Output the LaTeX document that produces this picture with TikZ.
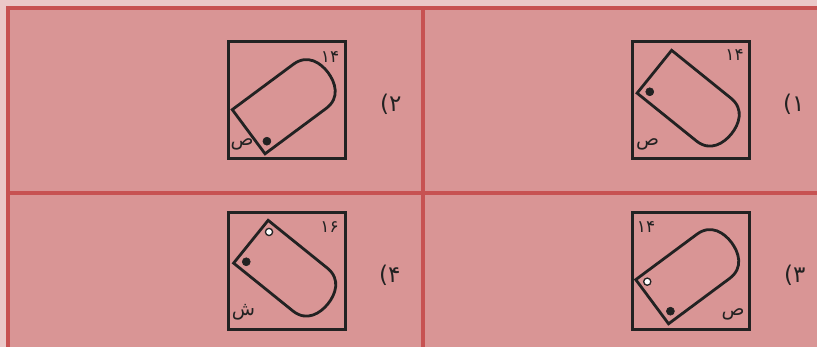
\documentclass[tikz,border=0pt]{standalone}
\usepackage{fontspec}
\newfontfamily\arabicfont[Script=Arabic]{DejaVu Sans}
\TeXXeTstate=1
\definecolor{bgout}{HTML}{EBC8C8}
\definecolor{cellbg}{HTML}{D99595}
\definecolor{gridc}{HTML}{C75252}
\definecolor{ink}{HTML}{222222}
\tikzset{
  gridline/.style={draw=gridc, line width=4pt},
  boxline/.style={draw=ink, line width=3pt},
  shapeline/.style={draw=ink, line width=2.8pt, line join=miter},
  blackdot/.style={fill=ink, draw=ink, line width=0.6pt},
  whitedot/.style={fill=white, draw=ink, line width=1.3pt},
  numtxt/.style={text=ink, font=\arabicfont\fontsize{17}{19}\selectfont, inner sep=0pt},
  lettxt/.style={text=ink, font=\arabicfont\fontsize{19}{21}\selectfont, inner sep=0pt},
  lbltxt/.style={text=ink, font=\arabicfont\fontsize{23}{26}\selectfont, inner sep=0pt, anchor=base west},
}
\newcommand\tagpath[4]{% name prefix, cx, cy, rotation
  \begin{scope}[shift={(#2,#3)}, rotate=#4]
    \draw[shapeline] (-49,27.5) -- (27,27.5) .. controls (45,27.5) and (50,12) .. (50,0)
      .. controls (50,-12) and (45,-27.5) .. (27,-27.5) -- (-49,-27.5) -- cycle;
    \coordinate (#1b) at (-40,-18.5);
    \coordinate (#1w) at (-41,19);
  \end{scope}
}
\begin{document}
\begin{tikzpicture}[x=1pt,y=1pt]
\useasboundingbox (0,0) rectangle (817,347);
\fill[bgout] (0,0) rectangle (817,347);
\fill[cellbg] (8,0) rectangle (817,339);
% grid
\coordinate (gl0) at (8,0);
\coordinate (gl1) at (8,341);
\coordinate (gt0) at (6,339);
\coordinate (gt1) at (817,339);
\coordinate (gv0) at (423,0);
\coordinate (gv1) at (423,339);
\coordinate (gh0) at (8,154);
\coordinate (gh1) at (817,154);
\draw[gridline] (gl0) -- (gl1);
\draw[gridline] (gt0) -- (gt1);
\draw[gridline] (gv0) -- (gv1);
\draw[gridline] (gh0) -- (gh1);

% boxes
\node[boxline, minimum width=117pt, minimum height=117pt, inner sep=0pt] (box1) at (690.5,246.5) {};
\node[boxline, minimum width=117pt, minimum height=117pt, inner sep=0pt] (box2) at (286.5,246.5) {};
\node[boxline, minimum width=117pt, minimum height=117pt, inner sep=0pt] (box3) at (690.5,76) {};
\node[boxline, minimum width=117pt, minimum height=117pt, inner sep=0pt] (box4) at (286.5,76) {};

% tags
\tagpath{t1}{692.5}{244.5}{-38.9}
\tagpath{t2}{288}{244.5}{36.6}
\tagpath{t3}{691.5}{74.5}{36.6}
\tagpath{t4}{289}{74.5}{-38.9}

\filldraw[blackdot] (t1b) circle (4);
\filldraw[blackdot] (t2b) circle (4);
\filldraw[blackdot] (t3b) circle (4);
\filldraw[whitedot] (t3w) circle (3.6);
\filldraw[blackdot] (t4b) circle (4);
\filldraw[whitedot] (t4w) circle (3.6);

% small texts
\node[numtxt] (n1) at (734.5,292) {۱۴};
\node[lettxt] (c1) at (647.5,203) {ص};
\node[numtxt] (n2) at (330,290) {۱۴};
\node[lettxt] (c2) at (242,203) {ص};
\node[numtxt] (n4) at (329.5,120) {۱۶};
\node[lettxt] (c4) at (243.5,35) {ش};
\node[numtxt] (n3) at (646,120) {۱۴};
\node[lettxt] (c3) at (733,33) {ص};

% labels (font runs right to left: logical "digit )" shows as "(digit")
\node[lbltxt] (l1) at (783,235) {۱)};
\node[lbltxt] (l2) at (380,235) {۲)};
\node[lbltxt] (l3) at (784,64) {۳)};
\node[lbltxt] (l4) at (379,64) {۴)};
\end{tikzpicture}
\end{document}
